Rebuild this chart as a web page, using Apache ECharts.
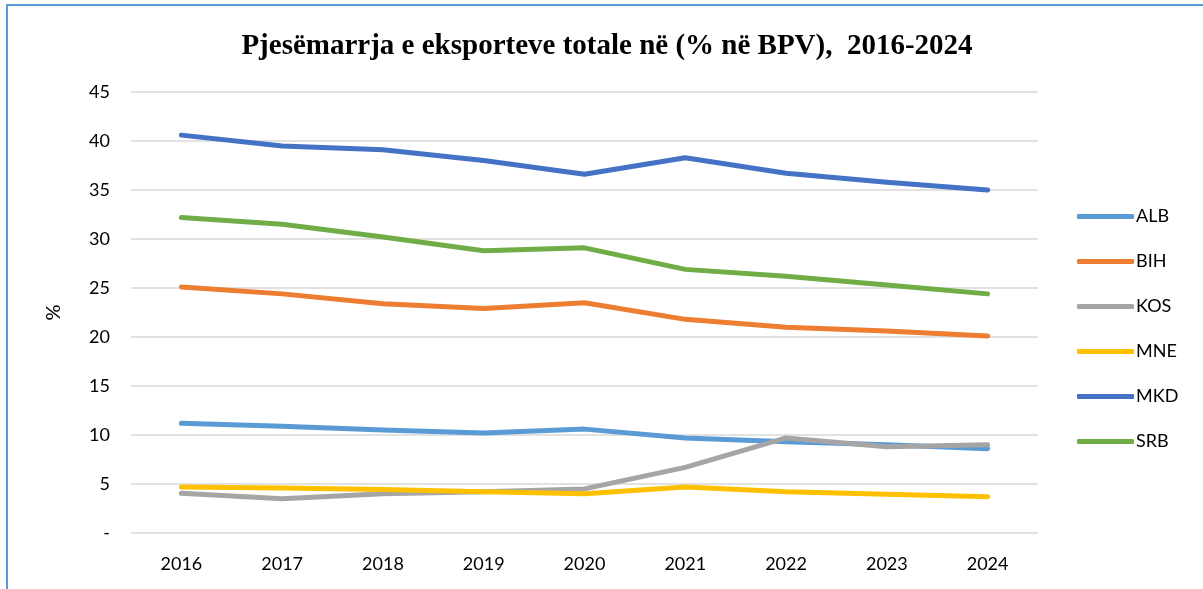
<!DOCTYPE html>
<html>
<head>
<meta charset="utf-8">
<script src="https://cdn.jsdelivr.net/npm/echarts@6/dist/echarts.min.js"></script>
<style>
  html, body { margin: 0; padding: 0; background: #fff; }
  #chart { width: 1203px; height: 589px; }
</style>
</head>
<body>
<div id="chart"></div>
<script>
const years = ['2016', '2017', '2018', '2019', '2020', '2021', '2022', '2023', '2024']
const alb = [11.2, 10.9, 10.5, 10.2, 10.6, 9.7, 9.3, 9.0, 8.6]
const bih = [25.1, 24.4, 23.4, 22.9, 23.5, 21.8, 21.0, 20.6, 20.1]
const kos = [4.05, 3.5, 4.0, 4.2, 4.5, 6.7, 9.7, 8.8, 9.0]
const mne = [4.7, 4.6, 4.45, 4.2, 4.0, 4.7, 4.2, 3.95, 3.7]
const mkd = [40.6, 39.5, 39.1, 38.0, 36.6, 38.3, 36.7, 35.8, 35.0]
const srb = [32.2, 31.5, 30.2, 28.8, 29.1, 26.9, 26.2, 25.3, 24.4]

const names = ['ALB', 'BIH', 'KOS', 'MNE', 'MKD', 'SRB']
const values = [alb, bih, kos, mne, mkd, srb]
const colors = ['#5b9bd5', '#ed7d31', '#a5a5a5', '#ffc000', '#4472c4', '#70ad47']

const tickFont = 'Lato, "Open Sans", sans-serif'

const chart = echarts.init(document.getElementById('chart'))

function buildSeries() {
  const ret = []
  for (let i = 0; i < names.length; i++) {
    ret.push({
      name: names[i],
      type: 'line',
      data: values[i],
      symbol: 'none',
      lineStyle: { width: 5, color: colors[i], cap: 'round', join: 'round' },
      itemStyle: { color: colors[i] }
    })
  }
  return ret
}

chart.setOption({
  animation: false,
  color: colors,
  title: {
    text: 'Pjesëmarrja e eksporteve totale në (% në BPV),  2016-2024',
    left: 602,
    textAlign: 'center',
    top: 27,
    textStyle: {
      fontFamily: '"Liberation Serif", "Times New Roman", serif',
      fontWeight: 'bold',
      fontSize: 29,
      color: '#000'
    }
  },
  graphic: [
    { type: 'line', shape: { x1: 6, y1: 5, x2: 1203, y2: 5 }, style: { stroke: '#5b9bd5', lineWidth: 2 } },
    { type: 'line', shape: { x1: 7, y1: 5, x2: 7, y2: 589 }, style: { stroke: '#5b9bd5', lineWidth: 2 } }
  ],
  legend: {
    orient: 'vertical',
    left: 1072,
    top: 201,
    itemGap: 24,
    itemWidth: 57,
    itemHeight: 5,
    icon: 'roundRect',
    textStyle: { fontFamily: tickFont, fontSize: 18, color: '#000', lineHeight: 21, padding: [0, 0, 0, -3] },
    data: names
  },
  grid: {
    left: 131,
    right: 165,
    top: 92,
    bottom: 56
  },
  xAxis: {
    type: 'category',
    data: years,
    boundaryGap: true,
    axisLine: { show: false },
    axisTick: { show: false },
    axisLabel: { fontFamily: tickFont, fontSize: 18, color: '#000', margin: 22 }
  },
  yAxis: {
    type: 'value',
    min: 0,
    max: 45,
    interval: 5,
    name: '%',
    nameLocation: 'middle',
    nameGap: 67,
    nameTextStyle: { fontFamily: tickFont, fontSize: 20, color: '#000' },
    axisLine: { show: false },
    axisTick: { show: false },
    splitLine: { lineStyle: { color: '#d9d9d9', width: 1.5 } },
    axisLabel: {
      fontFamily: tickFont,
      fontSize: 18,
      color: '#000',
      margin: 21,
      formatter(v) {
        return v === 0 ? '-' : v
      }
    }
  },
  series: buildSeries()
})
</script>
</body>
</html>
